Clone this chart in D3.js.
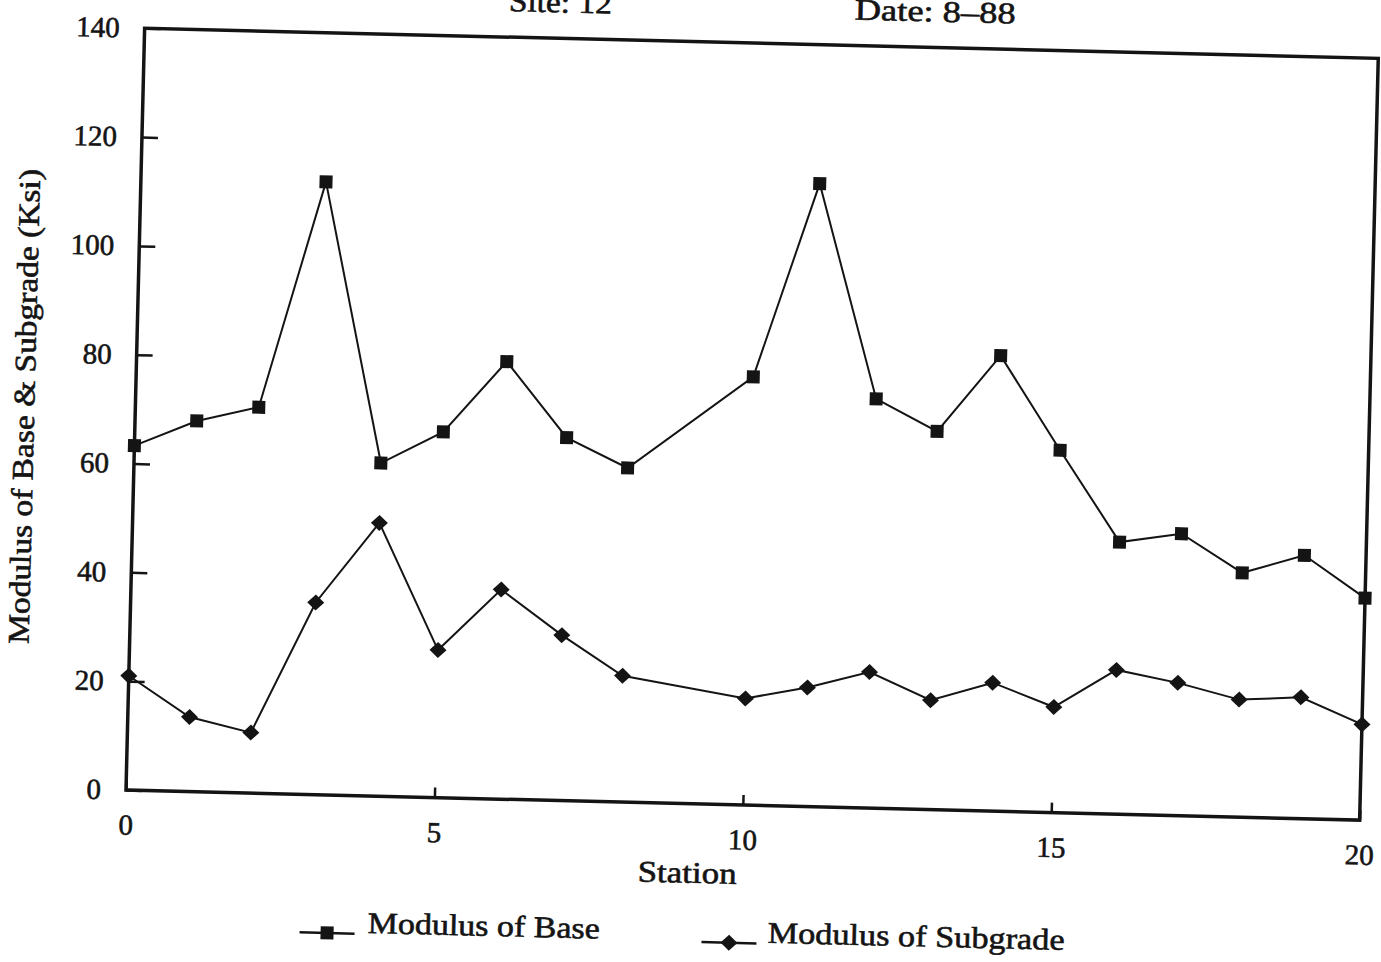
<!DOCTYPE html>
<html>
<head>
<meta charset="utf-8">
<script src="https://cdn.jsdelivr.net/npm/d3@7"></script>
<style>
  body { margin: 0; background: #fff; }
  svg { display: block; }
  text { font-family: 'Liberation Serif', 'Times New Roman', serif; fill: #141414; stroke: #141414; stroke-width: 0.6px; }
</style>
</head>
<body>
<svg id="chart"></svg>
<script>
const stations = [0, 1, 2, 3, 4, 5, 6, 7, 8, 10, 11, 12, 13, 14, 15, 16, 17, 18, 19, 20];
const baseModulus = [63.3, 68.1, 70.9, 112.6, 61.2, 67.2, 80.4, 66.7, 61.4, 78.7, 114.5, 75.2, 69.5, 83.7, 66.6, 50.0, 51.8, 44.9, 48.4, 40.8];
const subgradeModulus = [21.0, 13.7, 11.1, 35.3, 50.2, 27.1, 38.5, 30.4, 23.2, 19.6, 21.9, 25.0, 20.1, 23.6, 19.4, 26.5, 24.4, 21.6, 22.3, 17.6];
const xTicks = [0, 5, 10, 15, 20];
const yTicks = [0, 20, 40, 60, 80, 100, 120, 140];
const seriesNames = ['Modulus of Base', 'Modulus of Subgrade'];

const width = 1381;
const height = 962;
const plotW = 1234;
const plotH = 762;
const ink = '#141414';

const svg = d3.select('#chart')
  .attr('width', width)
  .attr('height', height);

svg.append('rect')
  .attr('width', width)
  .attr('height', height)
  .attr('fill', '#fff');

// the scanned page sits slightly skewed, so the whole chart is turned a little
const g = svg.append('g')
  .attr('transform', 'translate(126,790) rotate(1.4)');

const xScale = d3.scaleLinear().domain([0, 20]).range([0, plotW]);
const yScale = d3.scaleLinear().domain([0, 140]).range([0, -plotH]);

const xAxis = d3.axisBottom(xScale)
  .tickValues(xTicks)
  .tickSize(-10)
  .tickPadding(24)
  .tickFormat(d3.format('d'));

const yAxis = d3.axisLeft(yScale)
  .tickValues(yTicks)
  .tickSize(-16)
  .tickPadding(25)
  .tickFormat(d3.format('d'));

const gx = g.append('g').attr('id', 'x-axis').call(xAxis);
const gy = g.append('g').attr('id', 'y-axis').call(yAxis);

[gx, gy].forEach(ax => {
  ax.select('.domain').remove();
  ax.attr('font-family', null).attr('font-size', null);
  ax.selectAll('.tick line').attr('stroke', ink).attr('stroke-width', 2.5);
  ax.selectAll('.tick text')
    .attr('fill', ink)
    .style('font-size', '29px');
});

// frame
g.append('rect')
  .attr('x', 0)
  .attr('y', -plotH)
  .attr('width', plotW)
  .attr('height', plotH)
  .attr('fill', 'none')
  .attr('stroke', ink)
  .attr('stroke-width', 3.5);

const baseData = stations.map((s, i) => ({ station: s, value: baseModulus[i] }));
const subData = stations.map((s, i) => ({ station: s, value: subgradeModulus[i] }));

const line = d3.line()
  .x(d => xScale(d.station))
  .y(d => yScale(d.value));

g.append('path')
  .datum(baseData)
  .attr('fill', 'none')
  .attr('stroke', ink)
  .attr('stroke-width', 2)
  .attr('d', line);

g.append('path')
  .datum(subData)
  .attr('fill', 'none')
  .attr('stroke', ink)
  .attr('stroke-width', 2)
  .attr('d', line);

const squarePath = 'M-6.5,-6.5H6.5V6.5H-6.5Z';
const diamondPath = 'M0,-8L8.5,0L0,8L-8.5,0Z';

g.selectAll('.base-pt')
  .data(baseData)
  .enter().append('path')
  .attr('class', 'base-pt')
  .attr('d', squarePath)
  .attr('fill', ink)
  .attr('transform', d => `translate(${xScale(d.station)},${yScale(d.value)})`);

g.selectAll('.sub-pt')
  .data(subData)
  .enter().append('path')
  .attr('class', 'sub-pt')
  .attr('d', diamondPath)
  .attr('fill', ink)
  .attr('transform', d => `translate(${xScale(d.station)},${yScale(d.value)})`);

// titles
g.append('text')
  .attr('x', 415)
  .attr('y', -788)
  .attr('text-anchor', 'middle')
  .attr('textLength', 103)
  .attr('lengthAdjust', 'spacingAndGlyphs')
  .style('font-size', '30px')
  .text('Site: 12');

g.append('text')
  .attr('x', 790)
  .attr('y', -788)
  .attr('text-anchor', 'middle')
  .attr('textLength', 161)
  .attr('lengthAdjust', 'spacingAndGlyphs')
  .style('font-size', '30px')
  .text('Date: 8\u201388');

g.append('text')
  .attr('x', 563)
  .attr('y', 79)
  .attr('text-anchor', 'middle')
  .attr('textLength', 99)
  .attr('lengthAdjust', 'spacingAndGlyphs')
  .style('font-size', '30px')
  .text('Station');

g.append('text')
  .attr('transform', 'translate(-101,-381) rotate(-90)')
  .attr('text-anchor', 'middle')
  .attr('textLength', 475)
  .attr('lengthAdjust', 'spacingAndGlyphs')
  .style('font-size', '30px')
  .text('Modulus of Base & Subgrade (Ksi)');

// legend
const legend = [
  { name: seriesNames[0], shape: squarePath, x0: 177, x1: 232, tx: 245, len: 232 },
  { name: seriesNames[1], shape: diamondPath, x0: 579, x1: 634, tx: 645, len: 297 }
];

const lg = g.selectAll('.legend')
  .data(legend)
  .enter().append('g')
  .attr('class', 'legend');

lg.append('line')
  .attr('x1', d => d.x0)
  .attr('x2', d => d.x1)
  .attr('y1', 138)
  .attr('y2', 138)
  .attr('stroke', ink)
  .attr('stroke-width', 2.5);

lg.append('path')
  .attr('d', d => d.shape)
  .attr('fill', ink)
  .attr('transform', d => `translate(${(d.x0 + d.x1) / 2},138)`);

lg.append('text')
  .attr('x', d => d.tx)
  .attr('y', 137)
  .attr('textLength', d => d.len)
  .attr('lengthAdjust', 'spacingAndGlyphs')
  .style('font-size', '30px')
  .text(d => d.name);
</script>
</body>
</html>
